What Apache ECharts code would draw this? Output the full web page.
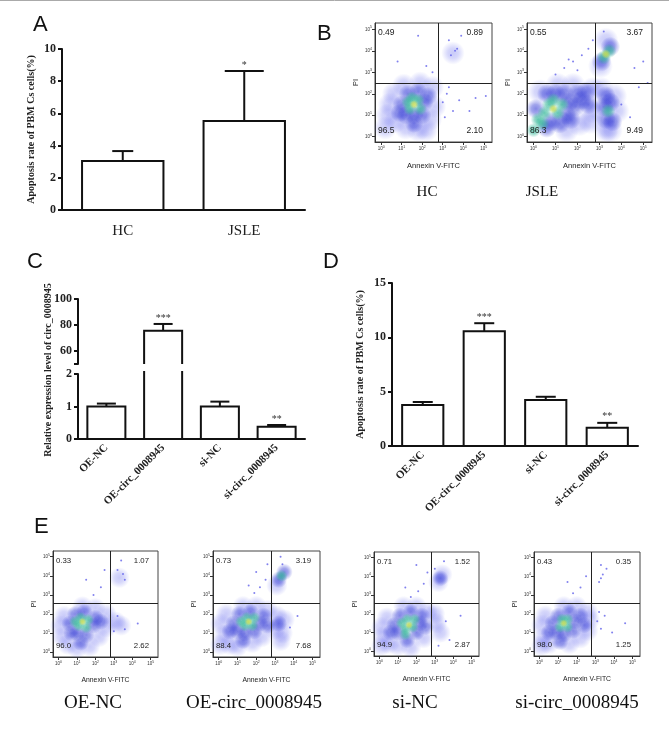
<!DOCTYPE html>
<html>
<head>
<meta charset="utf-8">
<script src="https://cdn.jsdelivr.net/npm/echarts@6/dist/echarts.min.js"></script>
<style>
    html, body {margin: 0; padding: 0; background: #fff;}
    #chart {width: 669px; height: 729px;}
</style>
</head>
<body>
<div id="chart"></div>
<script>
// ---- data ----
const groupsA = ['HC', 'JSLE'];
const meanA = [3.04, 5.53];
const sdA = [0.62, 3.1];
const starsA = ['', '*'];

const groupsCD = ['OE-NC', 'OE-circ_0008945', 'si-NC', 'si-circ_0008945'];
const meanC = [1.0, 75.5, 1.0, 0.38];
const sdC = [0.09, 5.3, 0.15, 0.05];
const starsC = ['', '***', '', '**'];
const ticksCUpper = [60, 80, 100];
const ticksCLower = [0, 1, 2];

const meanD = [3.77, 10.55, 4.23, 1.68];
const sdD = [0.28, 0.75, 0.3, 0.45];
const starsD = ['', '***', '', '**'];

// flow plots: log10 decades on both axes
const logTicks = [0, 1, 2, 3, 4, 5];
const gateX = 2.8;
const gateYB = 2.5;
const gateYE = 2.58;
const flowNamesB = ['HC', 'JSLE'];
const flowNamesE = ['OE-NC', 'OE-circ_0008945', 'si-NC', 'si-circ_0008945'];

// quadrant percentages: [UL, UR, LL, LR]
const quadHC = ['0.49', '0.89', '96.5', '2.10'];
const quadJSLE = ['0.55', '3.67', '86.3', '9.49'];
const quadOENC = ['0.33', '1.07', '96.0', '2.62'];
const quadOEcirc = ['0.73', '3.19', '88.4', '7.68'];
const quadSiNC = ['0.71', '1.52', '94.9', '2.87'];
const quadSicirc = ['0.43', '0.35', '98.0', '1.25'];

// event density cells: [log Annexin, log PI, density level 0-4]
const cellsHC = [
    [1.6, 1.5, 4],
    [1.4, 1.3, 3], [1.8, 1.7, 3], [1.5, 1.8, 3], [1.9, 1.3, 3], [1.3, 1.6, 3],
    [1.0, 1.5, 2], [1.2, 1.0, 2], [1.6, 1.0, 2], [2.1, 1.6, 2], [1.8, 2.1, 2], [1.3, 2.0, 2],
    [2.0, 1.0, 2], [1.6, 0.6, 2], [0.9, 1.1, 2], [2.3, 1.9, 2],
    [0.4, 1.5, 1], [0.3, 1.0, 1], [0.6, 2.0, 1], [0.7, 0.7, 1], [1.2, 0.4, 1], [1.8, 0.3, 1],
    [2.4, 0.8, 1], [2.6, 1.4, 1], [2.5, 2.3, 1], [1.9, 2.5, 1], [1.1, 2.4, 1], [0.2, 0.4, 1], [2.2, 0.3, 1],
    [3.5, 3.9, 1],
    [3.0, 1.6, 0], [3.2, 2.0, 0], [3.5, 1.2, 0], [3.8, 1.7, 0], [3.1, 0.9, 0], [4.3, 1.2, 0], [4.6, 1.8, 0],
    [3.3, 2.3, 0], [3.6, 4.0, 0], [3.4, 3.8, 0], [3.7, 4.1, 0], [3.3, 4.5, 0], [3.9, 4.7, 0],
    [1.8, 4.7, 0], [2.2, 3.3, 0], [2.5, 3.0, 0], [0.8, 3.5, 0], [5.1, 1.9, 0]
];
const cellsJSLE = [
    [0.9, 1.3, 4],
    [0.7, 1.5, 3], [1.1, 1.1, 3], [1.3, 1.5, 3], [0.9, 1.7, 3], [0.5, 1.1, 3],
    [0.2, 0.8, 3], [0.0, 0.3, 3], [0.4, 0.6, 3], [0.1, 1.3, 2], [0.6, 0.4, 2],
    [1.5, 1.0, 2], [1.6, 1.6, 2], [1.9, 1.4, 2], [2.2, 1.7, 2], [1.4, 2.0, 2], [1.0, 2.0, 2],
    [0.6, 2.0, 2], [2.0, 2.0, 2], [1.2, 0.6, 2], [2.5, 1.5, 2], [2.4, 2.1, 2], [0.8, 0.7, 2], [1.7, 0.8, 2],
    [2.7, 1.2, 1], [2.7, 2.2, 1], [2.1, 0.6, 1], [1.8, 2.4, 1], [1.1, 2.4, 1], [0.3, 2.1, 1],
    [2.6, 0.7, 1], [1.5, 0.3, 1],
    [3.4, 1.2, 3], [3.3, 0.8, 2], [3.5, 1.6, 2], [3.3, 1.9, 2], [3.6, 0.7, 2], [3.2, 1.4, 2],
    [3.5, 0.3, 1], [3.8, 1.2, 1], [3.1, 2.2, 1], [3.7, 1.9, 1], [3.3, 0.3, 1],
    [3.3, 3.85, 4], [3.2, 3.7, 3], [3.45, 4.0, 3], [3.1, 3.5, 2], [3.5, 4.2, 2], [3.3, 4.5, 1], [3.05, 3.3, 1],
    [3.2, 4.9, 0], [4.0, 1.5, 0], [4.4, 0.9, 0], [4.8, 2.3, 0], [5.2, 2.5, 0], [4.6, 3.2, 0], [5.0, 3.5, 0],
    [1.0, 2.9, 0], [1.4, 3.2, 0], [1.8, 3.5, 0], [2.2, 3.8, 0], [2.5, 4.1, 0], [2.7, 4.5, 0], [2.0, 3.1, 0], [1.6, 3.6, 0]
];
const cellsOENC = [
    [1.3, 1.6, 4],
    [1.1, 1.4, 3], [1.5, 1.3, 3], [1.2, 1.8, 3], [1.6, 1.7, 3], [0.9, 1.6, 3],
    [0.6, 1.5, 2], [0.7, 1.0, 2], [1.0, 1.0, 2], [1.5, 0.9, 2], [1.9, 1.4, 2], [2.0, 1.8, 2],
    [1.4, 2.1, 2], [0.9, 2.0, 2], [2.3, 1.6, 2], [1.2, 0.5, 2],
    [0.1, 1.4, 1], [0.2, 0.8, 1], [0.3, 1.9, 1], [0.5, 0.4, 1], [1.0, 0.2, 1], [1.7, 0.3, 1],
    [2.2, 0.8, 1], [2.6, 1.3, 1], [2.6, 2.0, 1], [2.0, 2.3, 1], [1.3, 2.4, 1],
    [3.1, 1.6, 1], [3.4, 1.4, 1], [3.3, 3.9, 1],
    [3.2, 1.9, 0], [3.6, 1.2, 0], [3.0, 1.1, 0], [4.3, 1.5, 0],
    [3.5, 4.1, 0], [3.2, 4.3, 0], [3.4, 4.8, 0], [3.6, 3.8, 0],
    [1.9, 3.0, 0], [2.3, 3.4, 0], [1.5, 3.8, 0], [2.5, 4.3, 0]
];
const cellsOEcirc = [
    [1.6, 1.6, 4],
    [1.4, 1.4, 3], [1.8, 1.4, 3], [1.5, 1.8, 3], [1.9, 1.8, 3], [1.2, 1.6, 3],
    [0.8, 1.5, 2], [1.0, 1.1, 2], [1.4, 1.0, 2], [1.9, 1.1, 2], [2.2, 1.5, 2], [2.4, 1.9, 2],
    [1.7, 2.1, 2], [1.1, 2.0, 2], [0.6, 1.1, 2], [1.3, 0.6, 2], [2.6, 1.4, 2],
    [0.1, 1.5, 1], [0.3, 0.9, 1], [0.4, 2.0, 1], [0.6, 0.4, 1], [1.0, 0.3, 1], [1.8, 0.5, 1],
    [2.3, 0.8, 1], [2.6, 2.2, 1], [2.0, 2.4, 1], [1.3, 2.4, 1], [0.1, 0.4, 1],
    [3.2, 1.5, 2], [3.4, 1.0, 1], [3.1, 1.9, 1], [3.5, 1.7, 1], [3.3, 0.6, 1], [3.0, 1.2, 1],
    [3.8, 1.3, 0], [4.2, 1.9, 0],
    [3.35, 4.0, 3], [3.2, 3.8, 2], [3.5, 4.2, 2], [3.1, 3.5, 1], [3.4, 4.6, 0], [3.3, 5.0, 0],
    [1.9, 3.1, 0], [2.2, 3.4, 0], [2.5, 3.8, 0], [2.0, 4.2, 0], [2.6, 4.6, 0], [1.6, 3.5, 0]
];
const cellsSiNC = [
    [1.6, 1.4, 4],
    [1.4, 1.2, 3], [1.8, 1.3, 3], [1.5, 1.7, 3], [1.9, 1.7, 3], [1.2, 1.5, 3], [1.4, 0.9, 3],
    [0.8, 1.4, 2], [1.0, 1.0, 2], [1.5, 0.6, 2], [2.0, 1.0, 2], [2.2, 1.5, 2], [2.3, 1.9, 2],
    [1.7, 2.1, 2], [1.1, 1.9, 2], [0.6, 1.0, 2], [2.5, 1.3, 2],
    [0.1, 1.3, 1], [0.2, 0.8, 1], [0.4, 1.8, 1], [0.5, 0.4, 1], [1.0, 0.3, 1], [1.7, 0.2, 1],
    [2.4, 0.7, 1], [2.6, 2.1, 1], [2.0, 2.4, 1], [1.3, 2.4, 1], [0.1, 0.3, 1],
    [3.1, 1.5, 1], [3.3, 1.0, 1], [3.0, 2.0, 1],
    [3.6, 1.6, 0], [3.8, 0.6, 0], [4.4, 1.9, 0], [3.2, 0.3, 0],
    [3.3, 3.9, 2], [3.2, 3.7, 1], [3.4, 4.1, 1], [3.0, 4.4, 0], [3.5, 4.8, 0],
    [1.7, 2.9, 0], [2.1, 3.2, 0], [2.4, 3.6, 0], [2.6, 4.2, 0], [2.0, 4.6, 0], [1.4, 3.4, 0]
];
const cellsSicirc = [
    [1.3, 1.5, 4],
    [1.1, 1.3, 3], [1.5, 1.3, 3], [1.2, 1.7, 3], [1.5, 1.7, 3],
    [0.7, 1.5, 2], [0.9, 1.0, 2], [1.3, 0.9, 2], [1.8, 1.1, 2], [1.9, 1.6, 2], [2.2, 1.9, 2],
    [1.6, 2.1, 2], [1.0, 1.9, 2], [0.5, 1.0, 2], [2.4, 1.4, 2], [1.1, 0.5, 2],
    [0.1, 1.4, 1], [0.2, 0.7, 1], [0.3, 1.9, 1], [0.5, 0.4, 1], [1.6, 0.4, 1], [2.2, 0.7, 1],
    [2.6, 1.1, 1], [2.6, 2.1, 1], [2.0, 2.4, 1], [1.3, 2.4, 1], [0.1, 0.3, 1], [2.7, 1.7, 1],
    [3.1, 1.6, 0], [3.3, 1.2, 0], [3.5, 1.9, 0], [3.2, 2.1, 0], [3.9, 1.0, 0], [4.6, 1.5, 0],
    [3.3, 3.9, 0], [3.4, 4.1, 0], [3.2, 3.7, 0], [3.6, 4.4, 0], [3.3, 4.6, 0],
    [1.8, 3.1, 0], [2.2, 3.4, 0], [1.5, 3.7, 0], [2.5, 4.0, 0]
];

// ---- layout / styles ----
const SERIF = '"Liberation Serif", "Times New Roman", serif';
const SANS = '"Liberation Sans", Arial, sans-serif';
const INK = '#111';

const flowBoxes = [
    {left: 375, top: 23, width: 117, height: 119, fs: 8.5, ts: 7.5},
    {left: 527, top: 23, width: 125, height: 119, fs: 8.5, ts: 7.5},
    {left: 53, top: 551, width: 105, height: 106, fs: 7.8, ts: 6.8},
    {left: 213, top: 551, width: 107, height: 106, fs: 7.8, ts: 6.8},
    {left: 374, top: 552, width: 105, height: 104, fs: 7.8, ts: 6.8},
    {left: 534, top: 552, width: 106, height: 104, fs: 7.8, ts: 6.8}
];
const flowCells = [cellsHC, cellsJSLE, cellsOENC, cellsOEcirc, cellsSiNC, cellsSicirc];
const flowQuads = [quadHC, quadJSLE, quadOENC, quadOEcirc, quadSiNC, quadSicirc];
const flowGateY = [gateYB, gateYB, gateYE, gateYE, gateYE, gateYE];

// density level -> soft blob
const blobRgb = ['70,70,230', '85,90,236', '36,44,210', '48,182,150', '210,222,70'];
const blobSize = [2, 24, 19, 14, 9];
const blobAlpha = [0.85, 0.4, 0.7, 0.9, 0.95];

function blobFill(lv) {
    if (!lv) return 'rgba(' + blobRgb[0] + ',' + blobAlpha[0] + ')';
    const a = blobAlpha[lv];
    return new echarts.graphic.RadialGradient(0.5, 0.5, 0.5, [
        {offset: 0, color: 'rgba(' + blobRgb[lv] + ',' + a + ')'},
        {offset: 0.45, color: 'rgba(' + blobRgb[lv] + ',' + (a * 0.75) + ')'},
        {offset: 1, color: 'rgba(' + blobRgb[lv] + ',0)'}
    ]);
}

function barItem(params, api) {
    const cs = params.coordSys;
    const c = api.coord([api.value(0), api.value(1)]);
    const b = api.coord([api.value(0), 0]);
    const half = api.size([1, 0])[0] * 0.335;
    const yBot = Math.min(b[1], cs.y + cs.height);
    const x0 = c[0] - half, x1 = c[0] + half;
    const style = {stroke: INK, lineWidth: 2, fill: null};
    if (c[1] < cs.y) {
        // bar runs through the axis break: sides only
        return {
            type: 'group', children: [
                {type: 'line', shape: {x1: x0, y1: yBot, x2: x0, y2: cs.y - 3}, style: style},
                {type: 'line', shape: {x1: x1, y1: yBot, x2: x1, y2: cs.y - 3}, style: style}
            ]
        };
    }
    return {type: 'polyline', shape: {points: [[x0, yBot], [x0, c[1]], [x1, c[1]], [x1, yBot]]}, style: style};
}

function errItem(stars, caps) {
    return function (params, api) {
        const i = api.value(0);
        const c = api.coord([i, api.value(1)]);
        const t = api.coord([i, api.value(1) + api.value(2)]);
        const cap = Array.isArray(caps) ? caps[i] : caps;
        const style = {stroke: INK, lineWidth: 2};
        return {
            type: 'group', children: [
                {type: 'line', shape: {x1: c[0], y1: c[1], x2: t[0], y2: t[1]}, style: style},
                {type: 'line', shape: {x1: t[0] - cap / 2, y1: t[1], x2: t[0] + cap / 2, y2: t[1]}, style: style},
                {
                    type: 'text', style: {
                        text: stars[i], x: t[0], y: t[1] - 1, align: 'center', verticalAlign: 'bottom',
                        font: '10px ' + SERIF, fill: '#333'
                    }
                }
            ]
        };
    };
}

function catAxis(idx, data, opts) {
    return Object.assign({
        type: 'category', gridIndex: idx, data: data,
        axisLine: {lineStyle: {color: INK, width: 2}},
        axisTick: {alignWithLabel: true, length: 4, lineStyle: {color: INK, width: 2}},
        axisLabel: {color: '#222', fontFamily: SERIF}
    }, opts);
}

function valAxis(idx, opts) {
    return Object.assign({
        type: 'value', gridIndex: idx,
        axisLine: {show: true, lineStyle: {color: INK, width: 2}},
        axisTick: {show: true, length: 4, lineStyle: {color: INK, width: 2}},
        axisLabel: {color: '#222', fontFamily: SERIF, fontWeight: 'bold', fontSize: 12, margin: 6},
        splitLine: {show: false}
    }, opts);
}

const grids = [
    {left: 62, top: 49, width: 243, height: 161},
    {left: 78, top: 299, width: 227, height: 65},
    {left: 78, top: 374, width: 227, height: 65},
    {left: 392, top: 283, width: 246, height: 163}
];
flowBoxes.forEach(b => grids.push({
    left: b.left, top: b.top, width: b.width, height: b.height,
    show: true, borderColor: '#444', borderWidth: 1, backgroundColor: '#fff'
}));
grids.forEach(g => g.outerBoundsMode = 'none');

const rotLabel = {rotate: 45, fontWeight: 'bold', fontSize: 11, margin: 7, interval: 0};
const xAxes = [
    catAxis(0, groupsA, {axisLabel: {color: '#222', fontFamily: SERIF, fontSize: 15, margin: 14}}),
    catAxis(1, groupsCD, {show: false}),
    catAxis(2, groupsCD, {axisLabel: Object.assign({color: '#222', fontFamily: SERIF}, rotLabel)}),
    catAxis(3, groupsCD, {axisLabel: Object.assign({color: '#222', fontFamily: SERIF}, rotLabel)})
];
const yTitle = {fontFamily: SERIF, fontWeight: 'bold', fontSize: 10, color: '#222'};
const yAxes = [
    valAxis(0, {min: 0, max: 10, interval: 2, name: 'Apoptosis rate of PBM Cs cells(%)',
        nameLocation: 'middle', nameGap: 26, nameTextStyle: yTitle}),
    valAxis(1, {min: 50, max: 100,
        axisTick: {show: true, length: 4, lineStyle: {color: INK, width: 2}, customValues: [50].concat(ticksCUpper)},
        axisLabel: {color: '#222', fontFamily: SERIF, fontWeight: 'bold', fontSize: 12, margin: 6, customValues: ticksCUpper}}),
    valAxis(2, {min: 0, max: 2,
        axisTick: {show: true, length: 4, lineStyle: {color: INK, width: 2}, customValues: ticksCLower},
        axisLabel: {color: '#222', fontFamily: SERIF, fontWeight: 'bold', fontSize: 12, margin: 6, customValues: ticksCLower}}),
    valAxis(3, {min: 0, max: 15, interval: 5, name: 'Apoptosis rate of PBM Cs cells(%)',
        nameLocation: 'middle', nameGap: 27, nameTextStyle: yTitle})
];

const flowLabel = (fs) => ({
    customValues: logTicks, color: '#333', margin: 3,
    formatter: v => '{b|10}{s|' + v + '}',
    rich: {b: {fontSize: fs, fontFamily: SANS, color: '#333'}, s: {fontSize: fs - 1, fontFamily: SANS, color: '#333', padding: [0, 0, 4, 0]}}
});
flowBoxes.forEach((b, k) => {
    const gi = 4 + k;
    const tick = {show: true, length: 3, customValues: logTicks, lineStyle: {color: '#333', width: 1}};
    xAxes.push({
        type: 'value', gridIndex: gi, min: -0.3, max: 5.4,
        axisLine: {show: true, onZero: false, lineStyle: {color: '#333', width: 1}},
        axisTick: tick, axisLabel: flowLabel(4.5), splitLine: {show: false},
        name: 'Annexin V-FITC', nameLocation: 'middle', nameGap: 20,
        nameTextStyle: {fontFamily: SANS, fontSize: b.ts, color: '#222'}
    });
    yAxes.push({
        type: 'value', gridIndex: gi, min: -0.25, max: 5.3,
        axisLine: {show: true, onZero: false, lineStyle: {color: '#333', width: 1}},
        axisTick: tick, axisLabel: flowLabel(4.5), splitLine: {show: false},
        name: 'PI', nameLocation: 'middle', nameGap: 15,
        nameTextStyle: {fontFamily: SANS, fontSize: b.ts, color: '#222'}
    });
});

// bar + error series
const rows = (m, s) => m.map((v, i) => [i, v, s[i]]);
const rowsA = rows(meanA, sdA);
const rowsC = rows(meanC, sdC);
const rowsD = rows(meanD, sdD);
const series = [
    {type: 'custom', xAxisIndex: 0, yAxisIndex: 0, renderItem: barItem, data: rowsA},
    {type: 'custom', xAxisIndex: 0, yAxisIndex: 0, renderItem: errItem(starsA, [21, 39]), data: rowsA},
    {type: 'custom', xAxisIndex: 1, yAxisIndex: 1, renderItem: barItem, data: rowsC.filter(r => r[1] > 50)},
    {type: 'custom', xAxisIndex: 1, yAxisIndex: 1, renderItem: errItem(starsC, 19), data: rowsC.filter(r => r[1] > 50)},
    {type: 'custom', xAxisIndex: 2, yAxisIndex: 2, renderItem: barItem, data: rowsC},
    {type: 'custom', xAxisIndex: 2, yAxisIndex: 2, renderItem: errItem(starsC, 19), data: rowsC.filter(r => r[1] + r[2] <= 2)},
    {type: 'custom', xAxisIndex: 3, yAxisIndex: 3, renderItem: barItem, data: rowsD},
    {type: 'custom', xAxisIndex: 3, yAxisIndex: 3, renderItem: errItem(starsD, 20), data: rowsD}
];

// flow cytometry panels
flowCells.forEach((cells, k) => {
    const gi = 4 + k;
    const sc = flowBoxes[k].width / 120;
    const pts = cells.slice().sort((a, b) => a[2] - b[2]).map(p => ({
        value: [p[0], p[1]],
        symbolSize: blobSize[p[2]] * (p[2] ? sc : 1),
        itemStyle: {color: blobFill(p[2])}
    }));
    series.push({
        type: 'scatter', xAxisIndex: gi, yAxisIndex: gi, data: pts, silent: true, clip: true,
        markLine: {
            silent: true, symbol: 'none', label: {show: false},
            lineStyle: {color: '#222', width: 1, type: 'solid'},
            data: [{xAxis: gateX}, {yAxis: flowGateY[k]}]
        }
    });
});

// texts
const graphics = [
    {type: 'line', shape: {x1: 0, y1: 0.5, x2: 669, y2: 0.5}, style: {stroke: '#aaa', lineWidth: 1}},
    {type: 'text', x: 33, y: 25, style: {text: 'A', font: '22px ' + SANS, fill: '#111', verticalAlign: 'middle'}},
    {type: 'text', x: 317, y: 34, style: {text: 'B', font: '22px ' + SANS, fill: '#111', verticalAlign: 'middle'}},
    {type: 'text', x: 27, y: 262, style: {text: 'C', font: '22px ' + SANS, fill: '#111', verticalAlign: 'middle'}},
    {type: 'text', x: 323, y: 262, style: {text: 'D', font: '22px ' + SANS, fill: '#111', verticalAlign: 'middle'}},
    {type: 'text', x: 34, y: 527, style: {text: 'E', font: '22px ' + SANS, fill: '#111', verticalAlign: 'middle'}},
    {
        type: 'text', x: 48, y: 370, rotation: Math.PI / 2,
        style: {text: 'Relative expression level of circ_0008945', font: 'bold 10px ' + SERIF, fill: '#222', align: 'center', verticalAlign: 'middle'}
    }
];
const nameSpots = [[427, 192, 15], [542, 192, 15], [93, 703, 19], [254, 703, 19], [415, 703, 19], [577, 703, 19]];
flowNamesB.concat(flowNamesE).forEach((n, k) => {
    const s = nameSpots[k];
    graphics.push({type: 'text', x: s[0], y: s[1], style: {text: n, font: s[2] + 'px ' + SERIF, fill: '#111', align: 'center', verticalAlign: 'middle'}});
});
flowQuads.forEach((q, k) => {
    const b = flowBoxes[k];
    const font = b.fs + 'px ' + SANS;
    const l = b.left + 3, r = b.left + b.width - 9;
    const t = b.top + 10, bt = b.top + b.height - 11;
    [[l, t, 'left'], [r, t, 'right'], [l, bt, 'left'], [r, bt, 'right']].forEach((p, j) => {
        graphics.push({type: 'text', x: p[0], y: p[1], z: 100, style: {text: q[j], font: font, fill: '#222', align: p[2], verticalAlign: 'middle'}});
    });
});

const chart = echarts.init(document.getElementById('chart'));
chart.setOption({
    animation: false,
    backgroundColor: '#fff',
    grid: grids,
    xAxis: xAxes,
    yAxis: yAxes,
    series: series,
    graphic: graphics
});
</script>
</body>
</html>
